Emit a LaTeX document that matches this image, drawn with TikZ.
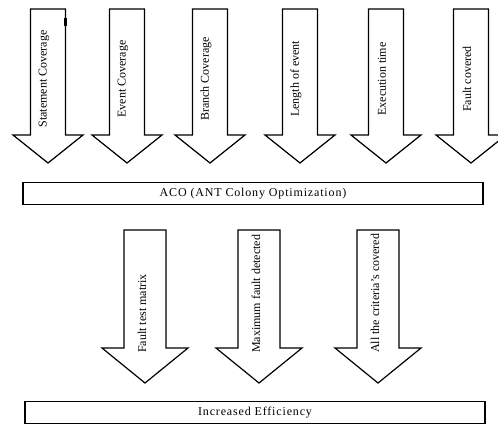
\documentclass[tikz,border=0pt]{standalone}
\usepackage{fontspec}
\setmainfont{Liberation Serif}
\usetikzlibrary{positioning}
\tikzset{blockarrow/.style = {draw, line width = 1.2pt, fill = white, line join = miter}}
\tikzset{lbl/.style = {rotate = 90, inner sep = 0, font = \fontsize{12}{14}\selectfont}}
\tikzset{bar/.style = {draw, line width = 1.2pt, minimum width = 460, minimum height = 22, inner sep = 0, font = \fontsize{12}{14}\selectfont\addfontfeature{LetterSpace=7}}}

\begin{document}
\begin{tikzpicture}[x = 1pt, y = -1pt]
      \useasboundingbox (0, 0) rectangle (498, 426);
      \foreach \cx/\name/\txt in {48/stmt/Statement Coverage, 127/event/Event Coverage, 210/branch/Branch Coverage, 300/length/Length of event, 386/exec/Execution time, 471/fault/Fault covered} {
        \draw [blockarrow] (\cx-17.5, 9) -- (\cx+17.5, 9) -- (\cx+17.5, 135) -- (\cx+35, 135) -- (\cx, 163) -- (\cx-35, 135) -- (\cx-17.5, 135) -- cycle;
        \node [lbl] (\name) at (\cx-4, 79) {\txt};
      }
      \fill (64, 18) rectangle (67, 26);
      \node [bar] (aco) at (253, 193.5) {ACO (ANT Colony Optimization)};
      \foreach \cx/\name/\txt in {145/ftm/Fault test matrix, 259/maxfault/Maximum fault detected, 378/criteria/All the criteria's covered} {
        \draw [blockarrow] (\cx-21, 230) -- (\cx+21, 230) -- (\cx+21, 348) -- (\cx+43, 348) -- (\cx, 383) -- (\cx-43, 348) -- (\cx-21, 348) -- cycle;
        \node [lbl, anchor = west] (\name) at (\cx-3, 353) {\txt};
      }
      \node [bar] (eff) at (255, 412.5) {Increased Efficiency};
    \end{tikzpicture}
\end{document}
